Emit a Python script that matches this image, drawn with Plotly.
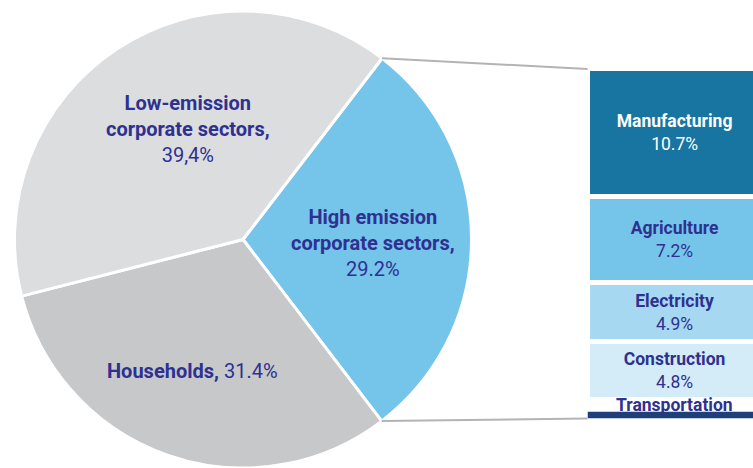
import math
import plotly.graph_objects as go

W, H = 753, 468

# ---- data ----
pie_labels = ["High emission<br>corporate sectors,", "Households,", "Low-emission<br>corporate sectors,"]
pie_values = [29.2, 31.4, 39.4]
pie_value_text = ["29.2%", "31.4%", "39,4%"]
pie_colors = ["#75C4E9", "#C7C8CA", "#DCDDDF"]

bar_labels = ["Transportation", "Construction", "Electricity", "Agriculture", "Manufacturing"]
bar_values = [1.6, 4.8, 4.9, 7.2, 10.7]
bar_value_text = ["", "4.8%", "4.9%", "7.2%", "10.7%"]
bar_colors = ["#FFFFFF", "#D4EBF8", "#A7D8F1", "#75C4E9", "#1874A0"]
bar_text_colors = ["#2E3190", "#2E3190", "#2E3190", "#2E3190", "#FFFFFF"]

TEXT = "#2E3190"
FONT = "Roboto"

# ---- layout geometry (pixels) ----
pie_cx, pie_top = 243, 11
pie_h = H - pie_top
pie_r = pie_h / 2
pie_cy = pie_top + pie_r
rotation = 37.5

bar_left = 587.5
bar_top, bar_bottom = 68, 418.4

fig = go.Figure()

fig.add_trace(go.Pie(
    values=pie_values,
    labels=pie_labels,
    sort=False,
    direction="clockwise",
    rotation=rotation,
    marker=dict(colors=pie_colors, line=dict(color="white", width=3)),
    textinfo="none",
    hoverinfo="skip",
    showlegend=False,
    domain=dict(x=[0, 2 * pie_cx / W], y=[0, 1 - pie_top / H]),
))

total = sum(bar_values)
for lab, v, vt, c, tc in zip(bar_labels, bar_values, bar_value_text, bar_colors, bar_text_colors):
    txt = "" if lab == "Transportation" else f"<b>{lab}</b><br>{vt}"
    fig.add_trace(go.Bar(
        x=[0], y=[v], width=1,
        marker=dict(color=c, line=dict(color="white", width=5)),
        text=[txt], textposition="inside", insidetextanchor="middle",
        constraintext="none", textangle=0,
        textfont=dict(family=FONT, size=17.5, color=tc),
        hoverinfo="skip", showlegend=False,
    ))

# transportation strip and label
fig.add_shape(type="rect", xref="x", yref="y", x0=-0.5, x1=0.5, y0=0, y1=0.55,
              fillcolor="#1F3F78", line=dict(width=0), layer="above")
fig.add_annotation(xref="x", yref="y", x=0, y=bar_values[0], yanchor="top", yshift=6,
                   text=f"<b>{bar_labels[0]}</b>", showarrow=False,
                   font=dict(family=FONT, size=17.5, color=TEXT))

# pie labels
label_pos = [(373, 243), (192, 371), (188, 129)]
seps = ["<br>", " ", "<br>"]
for lab, vt, sep, (px, py) in zip(pie_labels, pie_value_text, seps, label_pos):
    fig.add_annotation(xref="paper", yref="paper", x=px / W, y=1 - py / H,
                       xanchor="center", yanchor="middle",
                       text=f"<b>{lab}</b>{sep}{vt}", showarrow=False,
                       font=dict(family=FONT, size=20, color=TEXT))

# connector lines
a0 = math.radians(rotation)
a1 = math.radians(rotation + 360 * pie_values[0] / sum(pie_values))
for a, by in [(a0, bar_top + 1), (a1, bar_bottom)]:
    sx = pie_cx + pie_r * math.sin(a)
    sy = pie_cy - pie_r * math.cos(a)
    fig.add_shape(type="line", xref="paper", yref="paper",
                  x0=sx / W, y0=1 - sy / H, x1=(bar_left) / W, y1=1 - by / H,
                  line=dict(color="#B3B3B7", width=2))

fig.update_layout(
    width=W, height=H,
    margin=dict(l=0, r=0, t=0, b=0),
    paper_bgcolor="white", plot_bgcolor="rgba(0,0,0,0)",
    barmode="stack",
    xaxis=dict(domain=[bar_left / W, 1], range=[-0.5, 0.45], visible=False, fixedrange=True),
    yaxis=dict(domain=[1 - bar_bottom / H, 1 - bar_top / H], range=[0, total], visible=False, fixedrange=True),
    font=dict(family=FONT),
)

fig.write_html("out.html")
